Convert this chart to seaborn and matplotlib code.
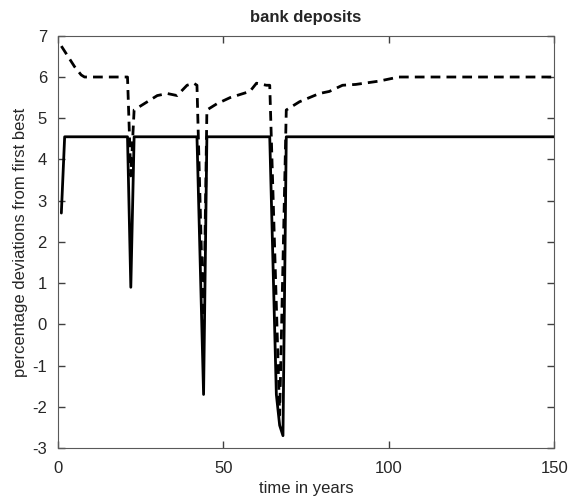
import matplotlib
matplotlib.use("Agg")
import matplotlib.pyplot as plt
import pandas as pd
import seaborn as sns

# solid line: vertices (time, value)
solid_t = [1, 2, 21, 22, 23, 42, 44, 45, 64, 66, 67, 68, 69, 150]
solid_v = [2.7, 4.55, 4.55, 0.9, 4.55, 4.55, -1.7, 4.55, 4.55, -1.7, -2.45, -2.7, 4.55, 4.55]

# dashed line
dash_t = [1, 3, 5, 7, 8, 21, 22, 23, 24, 27, 30, 33, 36, 39, 41, 42,
          44, 45, 48, 52, 56, 58, 60, 63, 64, 67, 69, 73, 79, 82, 86,
          90, 97, 103, 150]
dash_v = [6.75, 6.5, 6.25, 6.05, 6.0, 6.0, 3.6, 5.2, 5.25, 5.4, 5.55, 5.6, 5.55, 5.8, 5.85, 5.8,
          -0.2, 5.2, 5.35, 5.5, 5.6, 5.65, 5.85, 5.8, 5.8, -2.2, 5.2, 5.4, 5.6, 5.65, 5.8,
          5.82, 5.9, 6.0, 6.0]

xticks = [0, 50, 100, 150]
yticks = [-3, -2, -1, 0, 1, 2, 3, 4, 5, 6, 7]

sns.set_style("ticks", {'xtick.direction': 'in', 'ytick.direction': 'in'})
plt.rcParams['font.family'] = ['Liberation Sans', 'DejaVu Sans']
plt.rcParams['axes.unicode_minus'] = False

solid = pd.DataFrame({'t': solid_t, 'v': solid_v})
dash = pd.DataFrame({'t': dash_t, 'v': dash_v})

fig = plt.figure(figsize=(5.69, 5.04), dpi=100)
ax = fig.add_axes([0.102, 0.111, 0.872, 0.818])

sns.lineplot(data=solid, x='t', y='v', sort=False, color='black', linewidth=2, ax=ax)
sns.lineplot(data=dash, x='t', y='v', sort=False, color='black', linewidth=2,
             linestyle=(0, (3.5, 2.2)), ax=ax)

ax.set_xlim(0, 150)
ax.set_ylim(-3, 7)
ax.set_xticks(xticks)
ax.set_yticks(yticks)
ax.tick_params(which='major', direction='in', bottom=True, left=True, top=True, right=True,
               length=5, width=1.0, color='0.25', labelcolor='0.15', labelsize=12)
ax.tick_params(axis='x', pad=9)
ax.tick_params(axis='y', pad=8)
for s in ax.spines.values():
    s.set_color('0.35')
    s.set_linewidth(0.8)
    s.set_visible(True)

ax.set_title('bank deposits', fontsize=12, fontweight='bold', pad=10)
ax.set_xlabel('time in years', fontsize=12, color='0.15', labelpad=4)
ax.set_ylabel('percentage deviations from first best', fontsize=12, color='0.15', labelpad=3)

fig.savefig('out.png', dpi=100)
